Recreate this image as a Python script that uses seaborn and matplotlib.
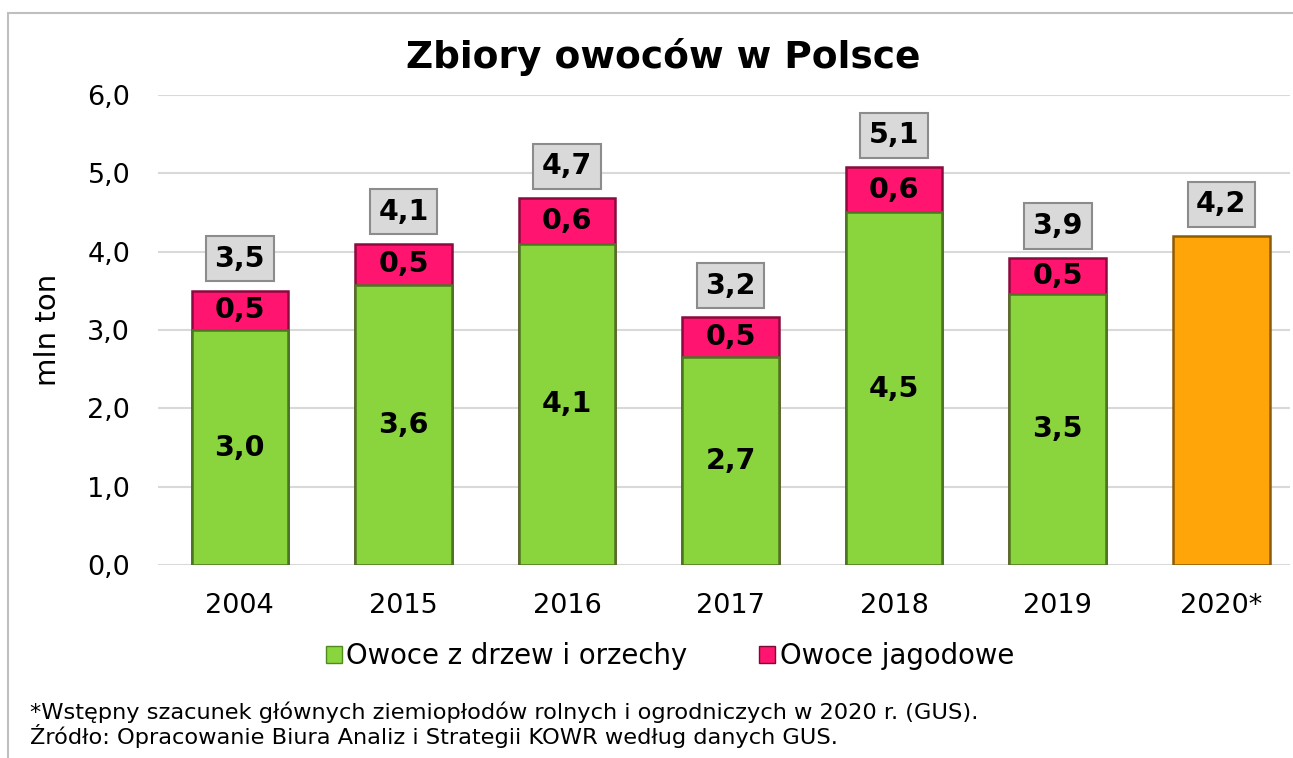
import matplotlib
matplotlib.use("Agg")
import matplotlib.pyplot as plt
import seaborn as sns
import pandas as pd
import numpy as np
from matplotlib.patches import Patch, Rectangle

years = ["2004", "2015", "2016", "2017", "2018", "2019", "2020*"]
tree_fruit = [3.0, 3.58, 4.1, 2.66, 4.5, 3.46, np.nan]
berries = [0.5, 0.52, 0.58, 0.5, 0.58, 0.46, np.nan]
total_2020 = 4.2
yticks = [0, 1, 2, 3, 4, 5, 6]
legend_labels = ["Owoce z drzew i orzechy", "Owoce jagodowe"]
title = "Zbiory owoców w Polsce"
ylabel = "mln ton"
footnote = ["*Wstępny szacunek głównych ziemiopłodów rolnych i ogrodniczych w 2020 r. (GUS).",
            "Źródło: Opracowanie Biura Analiz i Strategii KOWR według danych GUS."]

GREEN = "#8AD43E"
PINK = "#FF1470"
ORANGE = "#FFA50A"

totals = [t + b if not np.isnan(t) else total_2020 for t, b in zip(tree_fruit, berries)]
df = pd.DataFrame({"year": years, "tree": tree_fruit, "berry": berries, "total": totals})

sns.set_theme(style="white")
plt.rcParams["font.family"] = ["DejaVu Sans"]
for k in ["text.color", "axes.labelcolor", "xtick.color", "ytick.color"]:
    plt.rcParams[k] = "black"

fig = plt.figure(figsize=(12.93, 7.58), dpi=100)
ax = fig.add_axes([0.1222, 0.2546, 0.8755, 0.6201])

# outer border
fig.patches.append(Rectangle((8 / 1293, -0.01), 1.1, 1 - 13 / 758 + 0.01, transform=fig.transFigure,
                             fill=False, edgecolor="#BFBFBF", linewidth=1.5, zorder=0))

pal = {y: (ORANGE if y == "2020*" else PINK) for y in years}
sns.barplot(data=df, x="year", y="total", hue="year", palette=pal, order=years, saturation=1,
            width=0.59, legend=False, ax=ax, zorder=3, linewidth=0)
sns.barplot(data=df, x="year", y="tree", order=years, color=GREEN, saturation=1,
            width=0.59, ax=ax, zorder=4, linewidth=0)

# bevel-like darker edges
for p in ax.patches:
    fc = np.array(p.get_facecolor()[:3])
    p.set_edgecolor(tuple(fc * 0.55))
    p.set_linewidth(1.8)

ax.set_ylim(0, 6)
ax.set_xlim(-0.5, 6.42)
ax.set_yticks(yticks)
ax.set_yticklabels([f"{v:.1f}".replace(".", ",") for v in yticks], fontsize=19.5)
ax.tick_params(axis="x", labelsize=19.5, pad=14)
ax.tick_params(axis="y", pad=14)
ax.grid(axis="y", color="#D9D9D9", linewidth=1.5, zorder=0)
ax.set_axisbelow(True)
for s in ax.spines.values():
    s.set_visible(False)
ax.set_xlabel("")
ax.set_ylabel(ylabel, fontsize=21, labelpad=18)

fmt = lambda v: f"{v:.1f}".replace(".", ",")
for i, (t, b, tot) in enumerate(zip(tree_fruit, berries, totals)):
    if not np.isnan(t):
        ax.text(i, t / 2, fmt(t), ha="center", va="center", fontsize=20.5, fontweight="bold", zorder=6)
        ax.text(i, t + b / 2, fmt(b), ha="center", va="center", fontsize=20.5, fontweight="bold", zorder=6)
    ax.annotate(fmt(tot), xy=(i, tot), xytext=(0, 23), textcoords="offset points",
                ha="center", va="center", fontsize=20.5, fontweight="bold", zorder=6,
                bbox=dict(boxstyle="square,pad=0.3", fc="#D9D9D9", ec="#8C8C8C", lw=1.5))

fig.text(0.513, 0.925, title, ha="center", va="center", fontsize=27, fontweight="bold")

handles = [Patch(facecolor=GREEN, edgecolor="#4f8a1e"), Patch(facecolor=PINK, edgecolor="#7a0a36")]
fig.legend(handles, legend_labels, loc="center", bbox_to_anchor=(0.518, 0.134), ncol=2,
           frameon=False, fontsize=19.8, handlelength=0.6, handleheight=0.6,
           handletextpad=0.15, columnspacing=2.6)

fig.text(30 / 1293, 1 - 712 / 758, footnote[0], ha="left", va="center", fontsize=16.2)
fig.text(30 / 1293, 1 - 736 / 758, footnote[1], ha="left", va="center", fontsize=16.2)

fig.savefig("out.png", dpi=100)
